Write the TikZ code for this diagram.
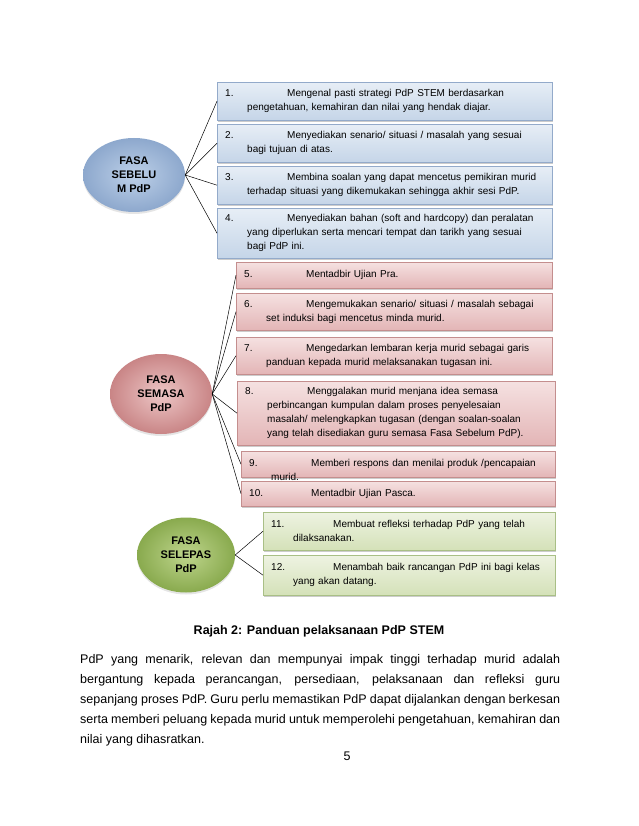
\documentclass[tikz,border=0pt]{standalone}
\usepackage{fontspec}
\setmainfont{Liberation Sans}
\usetikzlibrary{shapes,shadows,positioning}

\definecolor{biruA}{HTML}{E7EEF6}
\definecolor{biruB}{HTML}{C5D5E8}
\definecolor{biruT}{HTML}{93AACA}
\definecolor{merahA}{HTML}{F5E1E1}
\definecolor{merahB}{HTML}{E3B5B6}
\definecolor{merahT}{HTML}{C48E8E}
\definecolor{hijauA}{HTML}{EEF3E2}
\definecolor{hijauB}{HTML}{D4E1B8}
\definecolor{hijauT}{HTML}{A9BF86}
\definecolor{biruE}{HTML}{BDD0E8}
\definecolor{biruF}{HTML}{8DA8CD}
\definecolor{merahE}{HTML}{EDC6C6}
\definecolor{merahF}{HTML}{C98586}
\definecolor{hijauE}{HTML}{BED58C}
\definecolor{hijauF}{HTML}{89AA4E}

% number and gap on the first line, indent on the others
\newcommand{\nom}[1]{\hspace*{8pt}\makebox[62pt][l]{#1}}
\newcommand{\lpas}{\hspace*{30pt}}

\begin{document}
\begin{tikzpicture}[x=1pt, y=-1pt,
    langkah/.style={draw, rectangle, anchor=north west, inner xsep=0pt, inner ysep=2pt,
        align=left, font=\fontsize{10}{14}\selectfont,
        drop shadow={shadow xshift=1pt, shadow yshift=-1.5pt, opacity=0.4}},
    biru/.style={langkah, draw=biruT, top color=biruA, bottom color=biruB},
    merah/.style={langkah, draw=merahT, top color=merahA, bottom color=merahB},
    hijau/.style={langkah, draw=hijauT, top color=hijauA, bottom color=hijauB},
    fasa/.style={ellipse, inner sep=0pt, align=center, font=\bfseries\fontsize{11}{14}\selectfont,
        drop shadow={shadow xshift=0pt, shadow yshift=-2pt, opacity=0.2}},
    garis/.style={black, line width=0.5pt}]

    \fill[white] (0,0) rectangle (638,826);

    % fasa sebelum
    \node[fasa, inner color=biruE, outer color=biruF, minimum width=102pt, minimum height=74pt] (sebelum) at (134,175) {FASA\\SEBELU\\M PdP};

    \node[biru, text width=335pt, minimum height=38pt] (b1) at (217,82) {\nom{1.}Mengenal pasti strategi PdP STEM berdasarkan\\\lpas pengetahuan, kemahiran dan nilai yang hendak diajar.};
    \node[biru, text width=335pt, minimum height=38pt] (b2) at (217,124) {\nom{2.}Menyediakan senario/ situasi / masalah yang sesuai\\\lpas bagi tujuan di atas.};
    \node[biru, text width=335pt, minimum height=38pt] (b3) at (217,166) {\nom{3.}Membina soalan yang dapat mencetus pemikiran murid\\\lpas terhadap situasi yang dikemukakan sehingga akhir sesi PdP.};
    \node[biru, text width=335pt, minimum height=50pt] (b4) at (217,208) {\nom{4.}Menyediakan bahan (soft and hardcopy) dan peralatan\\\lpas yang diperlukan serta mencari tempat dan tarikh yang sesuai\\\lpas bagi PdP ini.};

    % fasa semasa
    \node[fasa, inner color=merahE, outer color=merahF, minimum width=102pt, minimum height=80pt] (semasa) at (161,394) {FASA\\SEMASA\\PdP};

    \node[merah, text width=316pt, minimum height=26pt] (b5) at (236,262) {\nom{5.}Mentadbir Ujian Pra.};
    \node[merah, text width=316pt, minimum height=37pt] (b6) at (236,293) {\nom{6.}Mengemukakan senario/ situasi / masalah sebagai\\\lpas set induksi bagi mencetus minda murid.};
    \node[merah, text width=316pt, minimum height=37pt] (b7) at (236,337) {\nom{7.}Mengedarkan lembaran kerja murid sebagai garis\\\lpas panduan kepada murid melaksanakan tugasan ini.};
    \node[merah, text width=318pt, minimum height=64pt] (b8) at (237,381) {\nom{8.}Menggalakan murid menjana idea semasa\\\lpas perbincangan kumpulan dalam proses penyelesaian\\\lpas masalah/ melengkapkan tugasan (dengan soalan-soalan\\\lpas yang telah disediakan guru semasa Fasa Sebelum PdP).};
    \node[merah, text width=314pt, minimum height=26pt, text depth=2pt] (b9) at (241,451) {\nom{9.}Memberi respons dan menilai produk /pencapaian\\\lpas murid.};
    \node[merah, text width=314pt, minimum height=25pt] (b10) at (241,481) {\nom{10.}Mentadbir Ujian Pasca.};

    % fasa selepas
    \node[fasa, inner color=hijauE, outer color=hijauF, minimum width=98pt, minimum height=75pt] (selepas) at (186,555) {FASA\\SELEPAS\\PdP};

    \node[hijau, text width=292pt, minimum height=38pt] (b11) at (263,512) {\nom{11.}Membuat refleksi terhadap PdP yang telah\\\lpas dilaksanakan.};
    \node[hijau, text width=292pt, minimum height=40pt] (b12) at (263,555) {\nom{12.}Menambah baik rancangan PdP ini bagi kelas\\\lpas yang akan datang.};

    \foreach \i in {1,...,4} \draw[garis] (sebelum.east) -- (b\i.west);
    \foreach \i in {5,...,10} \draw[garis] (semasa.east) -- (b\i.west);
    \foreach \i in {11,12} \draw[garis] (selepas.east) -- (b\i.west);

    \node[font=\bfseries\fontsize{12.5}{15}\selectfont] (tajuk) at (319,631) {Rajah 2: Panduan pelaksanaan PdP STEM};

    \node[anchor=base west, inner sep=0pt, text width=480pt, align=justify, font=\fontsize{12.5}{20}\selectfont] (perenggan) at (80,663)
        {PdP yang menarik, relevan dan mempunyai impak tinggi terhadap murid adalah\linebreak
        bergantung kepada perancangan, persediaan, pelaksanaan dan refleksi guru\linebreak
        sepanjang proses PdP. Guru perlu memastikan PdP dapat dijalankan dengan berkesan\linebreak
        serta memberi peluang kepada murid untuk memperolehi pengetahuan, kemahiran dan\linebreak
        nilai yang dihasratkan.};

    \node[font=\fontsize{12.5}{15}\selectfont] (halaman) at (347,756) {5};
\end{tikzpicture}
\end{document}
